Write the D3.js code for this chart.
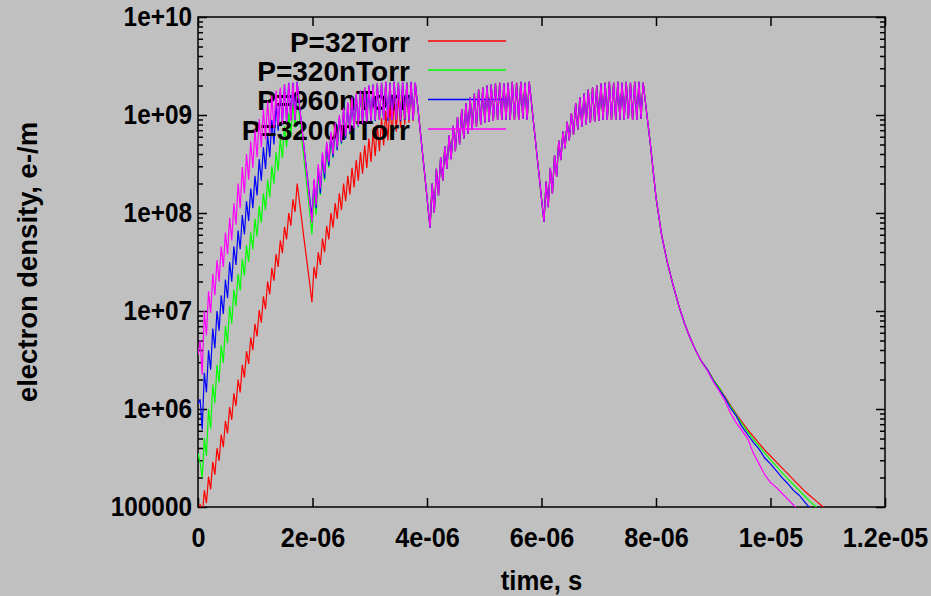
<!DOCTYPE html>
<html lang="en">
<head>
<meta charset="UTF-8">
<title>electron density</title>
<script src="https://d3js.org/d3.v7.min.js"></script>
<style>
  body { margin: 0; background: #c0c0c0; }
  svg text { font-family: "Liberation Sans", Arial, sans-serif; font-weight: bold; fill: #000; }
</style>
</head>
<body>
<svg id="chart" width="931" height="596"></svg>
<script>
// log10(electron density), one sample every half RF period
var halfPeriod = 0.03685e-6;

// pulse 1, decay, pulse 2 (samples 0..103)
var redEarly = [
  4.80, 5.03, 4.90, 5.17, 5.04, 5.31, 5.18, 5.46, 5.33, 5.60, 5.47, 5.74, 5.61, 5.88, 5.75, 6.02,
  5.89, 6.16, 6.03, 6.30, 6.17, 6.45, 6.32, 6.59, 6.46, 6.73, 6.60, 6.87, 6.74, 7.01, 6.88, 7.15,
  7.02, 7.30, 7.17, 7.44, 7.31, 7.58, 7.45, 7.72, 7.59, 7.86, 7.73, 8.00, 7.87, 8.14, 8.01, 8.30,
  8.13, 7.96, 7.78, 7.61, 7.44, 7.27, 7.09,
  7.45, 7.33, 7.60, 7.47, 7.74, 7.60, 7.87, 7.73, 8.00, 7.85, 8.10, 7.94, 8.20, 8.03, 8.30, 8.12,
  8.38, 8.19, 8.46, 8.26, 8.54, 8.33, 8.62, 8.40, 8.69, 8.46, 8.76, 8.52, 8.83, 8.58, 8.90, 8.63,
  8.97, 8.69, 9.04, 8.74, 9.10, 8.79, 9.16, 8.83, 9.21, 8.87, 9.25, 8.90, 9.28, 8.92, 9.30, 8.94, 9.31
];
var greenEarly = [
  5.55, 5.45, 5.30, 5.70, 5.52, 6.00, 5.80, 6.25, 6.06, 6.45, 6.27, 6.65, 6.47, 6.85, 6.67, 7.05,
  6.87, 7.22, 7.05, 7.38, 7.21, 7.53, 7.36, 7.67, 7.50, 7.80, 7.63, 7.94, 7.76, 8.07, 7.90, 8.20,
  8.03, 8.34, 8.16, 8.48, 8.30, 8.62, 8.43, 8.76, 8.56, 8.89, 8.67, 9.02, 8.78, 9.14, 8.87, 9.22,
  9.00, 8.80, 8.60, 8.40, 8.20, 8.00, 7.78,
  8.20, 7.98, 8.40, 8.18, 8.54, 8.33, 8.66, 8.46, 8.77, 8.56, 8.87, 8.64, 8.96, 8.70, 9.04, 8.76,
  9.10, 8.80, 9.16, 8.84, 9.20, 8.87, 9.24, 8.90, 9.27, 8.92, 9.29, 8.93, 9.31, 8.94, 9.32, 8.95,
  9.33, 8.95, 9.33, 8.95, 9.34, 8.95, 9.33, 8.96, 9.34, 8.95, 9.33, 8.95, 9.34, 8.96, 9.33, 8.96, 9.33
];
var blueEarly = [
  6.05, 6.10, 5.79, 6.37, 6.17, 6.60, 6.40, 6.82, 6.62, 7.00, 6.80, 7.16, 6.97, 7.32, 7.13, 7.50,
  7.30, 7.66, 7.47, 7.82, 7.63, 7.98, 7.78, 8.12, 7.92, 8.25, 8.05, 8.38, 8.18, 8.55, 8.33, 8.67,
  8.45, 8.80, 8.57, 8.95, 8.70, 9.12, 8.84, 9.25, 8.92, 9.31, 8.94, 9.33, 8.95, 9.33, 8.95, 9.34,
  9.12, 8.92, 8.72, 8.53, 8.34, 8.15, 7.96,
  8.33, 8.05, 8.47, 8.20, 8.60, 8.35, 8.71, 8.48, 8.81, 8.57, 8.90, 8.64, 8.98, 8.71, 9.06, 8.76,
  9.12, 8.81, 9.17, 8.85, 9.21, 8.88, 9.25, 8.90, 9.28, 8.92, 9.30, 8.93, 9.31, 8.94, 9.32, 8.95,
  9.33, 8.95, 9.34, 8.94, 9.33, 8.95, 9.34, 8.95, 9.33, 8.94, 9.34, 8.95, 9.33, 8.95, 9.34, 8.95, 9.33
];
var magentaEarly = [
  6.55, 6.70, 6.35, 7.00, 6.75, 7.20, 6.98, 7.38, 7.16, 7.52, 7.30, 7.66, 7.45, 7.80, 7.58, 7.95,
  7.72, 8.10, 7.88, 8.30, 8.05, 8.47, 8.20, 8.60, 8.34, 8.73, 8.46, 8.85, 8.57, 8.96, 8.67, 9.06,
  8.75, 9.14, 8.81, 9.20, 8.86, 9.25, 8.89, 9.28, 8.91, 9.31, 8.93, 9.32, 8.94, 9.33, 8.95, 9.33,
  9.12, 8.92, 8.71, 8.51, 8.31, 8.10, 7.90,
  8.35, 8.08, 8.50, 8.25, 8.62, 8.40, 8.73, 8.52, 8.83, 8.60, 8.92, 8.67, 9.00, 8.73, 9.07, 8.78,
  9.13, 8.83, 9.18, 8.86, 9.22, 8.89, 9.25, 8.91, 9.28, 8.93, 9.30, 8.94, 9.31, 8.95, 9.32, 8.95,
  9.33, 8.95, 9.34, 8.96, 9.33, 8.95, 9.34, 8.95, 9.33, 8.95, 9.34, 8.96, 9.33, 8.95, 9.34, 8.95, 9.33
];

// decay, pulse 3, decay, pulse 4 (samples 104..211), all pressures alike here
var lateAll = [
  9.12, 8.91, 8.70, 8.49, 8.28, 8.06, 7.85,
  8.30, 8.00, 8.45, 8.18, 8.57, 8.33, 8.68, 8.45, 8.79, 8.55, 8.89, 8.63, 8.98, 8.70, 9.06, 8.76,
  9.12, 8.81, 9.18, 8.85, 9.22, 8.88, 9.26, 8.90, 9.28, 8.92, 9.30, 8.93, 9.31, 8.94, 9.32, 8.95,
  9.33, 8.95, 9.32, 8.95, 9.33, 8.95, 9.34, 8.95, 9.33, 8.95, 9.34, 8.96, 9.33, 8.95, 9.34,
  9.14, 8.93, 8.73, 8.52, 8.32, 8.11, 7.91,
  8.32, 8.06, 8.46, 8.20, 8.59, 8.37, 8.74, 8.54, 8.83, 8.66, 8.93, 8.74, 9.02, 8.80, 9.12, 8.85,
  9.18, 8.88, 9.22, 8.90, 9.26, 8.92, 9.28, 8.93, 9.30, 8.94, 9.32, 8.95, 9.33, 8.95, 9.34, 8.95,
  9.33, 8.95, 9.34, 8.95, 9.33, 8.95, 9.34, 8.96, 9.33, 8.95, 9.34, 8.95, 9.34, 8.96, 9.33
];

// afterglow, one sample every 0.1 us from 7.9 us
var tailStart = 7.9e-6, tailStep = 0.1e-6;
var redTail = [8.71, 8.16, 7.77, 7.49, 7.26, 7.05, 6.87, 6.72, 6.59, 6.48, 6.40, 6.30, 6.22, 6.13, 6.04, 5.95,
  5.87, 5.79, 5.72, 5.65, 5.58, 5.52, 5.46, 5.40, 5.34, 5.28, 5.22, 5.16, 5.11, 5.06, 5.01, 4.96];
var greenTail = [8.71, 8.16, 7.77, 7.49, 7.26, 7.05, 6.87, 6.72, 6.59, 6.48, 6.40, 6.30, 6.22, 6.12, 6.03, 5.94,
  5.85, 5.77, 5.69, 5.62, 5.55, 5.48, 5.42, 5.35, 5.29, 5.23, 5.17, 5.11, 5.05, 5.00, 4.95];
var blueTail = [8.71, 8.16, 7.77, 7.49, 7.26, 7.05, 6.87, 6.72, 6.59, 6.48, 6.40, 6.29, 6.20, 6.12, 6.01, 5.93,
  5.82, 5.74, 5.66, 5.59, 5.50, 5.44, 5.37, 5.30, 5.24, 5.17, 5.12, 5.05, 4.98];
var magentaTail = [8.71, 8.16, 7.77, 7.49, 7.26, 7.05, 6.87, 6.72, 6.59, 6.48, 6.39, 6.28, 6.19, 6.09, 5.96, 5.86,
  5.78, 5.70, 5.55, 5.44, 5.33, 5.25, 5.20, 5.14, 5.08, 5.02, 4.96];

var seriesNames = ["P=32Torr", "P=320nTorr", "P=960nTorr", "P=3200nTorr"];
var seriesColors = ["#ff0000", "#00ff00", "#0000ff", "#ff00ff"];

var xTicks = [0, 2e-6, 4e-6, 6e-6, 8e-6, 1e-5, 1.2e-5];
var xTickLabels = ["0", "2e-06", "4e-06", "6e-06", "8e-06", "1e-05", "1.2e-05"];
var yTicks = [1e5, 1e6, 1e7, 1e8, 1e9, 1e10];
var yTickLabels = ["100000", "1e+06", "1e+07", "1e+08", "1e+09", "1e+10"];

function buildSeries(early, late, tail) {
  var pts = [];
  early.forEach(function (v, i) { pts.push([i * halfPeriod, Math.pow(10, v)]); });
  late.forEach(function (v, j) { pts.push([(early.length + j) * halfPeriod, Math.pow(10, v)]); });
  tail.forEach(function (v, k) { pts.push([tailStart + k * tailStep, Math.pow(10, v)]); });
  return pts;
}

var series = [
  buildSeries(redEarly, lateAll, redTail),
  buildSeries(greenEarly, lateAll, greenTail),
  buildSeries(blueEarly, lateAll, blueTail),
  buildSeries(magentaEarly, lateAll, magentaTail)
];

var plotL = 198, plotR = 885, plotT = 17, plotB = 507;
var svg = d3.select("#chart");

var x = d3.scaleLinear().domain([0, 1.2e-5]).range([plotL, plotR]);
var y = d3.scaleLog().domain([1e5, 1e10]).range([plotB, plotT]);

svg.append("rect").attr("width", 931).attr("height", 596).attr("fill", "#c0c0c0");

var minorTicks = y.ticks().filter(function (d) { return yTicks.indexOf(d) < 0; });

// gnuplot's font is a little narrower than Liberation Sans
function squeeze(sel, k) {
  sel.each(function () {
    var w = this.getComputedTextLength();
    this.setAttribute("textLength", w * k);
    this.setAttribute("lengthAdjust", "spacingAndGlyphs");
  });
}

function styleAxis(g) {
  g.select(".domain").remove();
  g.selectAll(".tick line").attr("stroke", "#000").attr("stroke-width", 1.5);
  g.selectAll("text").attr("font-size", 28).attr("fill", "#000");
}

svg.append("g").attr("transform", "translate(" + plotL + ",0)")
  .call(d3.axisLeft(y).tickValues(yTicks).tickSize(-9).tickPadding(6)
    .tickFormat(function (d, i) { return yTickLabels[i]; }))
  .call(styleAxis)
  .selectAll("text").call(squeeze, 0.87);
svg.append("g").attr("transform", "translate(" + plotL + ",0)")
  .call(d3.axisLeft(y).tickValues(minorTicks).tickSize(-5).tickFormat(""))
  .call(styleAxis);
svg.append("g").attr("transform", "translate(" + plotR + ",0)")
  .call(d3.axisRight(y).tickValues(yTicks).tickSize(-9).tickFormat(""))
  .call(styleAxis);
svg.append("g").attr("transform", "translate(" + plotR + ",0)")
  .call(d3.axisRight(y).tickValues(minorTicks).tickSize(-5).tickFormat(""))
  .call(styleAxis);
svg.append("g").attr("transform", "translate(0," + plotB + ")")
  .call(d3.axisBottom(x).tickValues(xTicks).tickSize(-9).tickPadding(20)
    .tickFormat(function (d, i) { return xTickLabels[i]; }))
  .call(styleAxis)
  .selectAll("text").call(squeeze, 0.9);
svg.append("g").attr("transform", "translate(0," + plotT + ")")
  .call(d3.axisTop(x).tickValues(xTicks).tickSize(-9).tickFormat(""))
  .call(styleAxis);

svg.append("rect")
  .attr("x", plotL).attr("y", plotT)
  .attr("width", plotR - plotL).attr("height", plotB - plotT)
  .attr("fill", "none").attr("stroke", "#000").attr("stroke-width", 1.5);

svg.append("text")
  .attr("x", (plotL + plotR) / 2).attr("y", 590)
  .attr("text-anchor", "middle").attr("font-size", 28)
  .text("time, s")
  .call(squeeze, 0.92);
svg.append("text")
  .attr("transform", "translate(37," + (plotT + plotB) / 2 + ") rotate(-90)")
  .attr("text-anchor", "middle").attr("font-size", 28)
  .text("electron density, e-/m")
  .call(squeeze, 0.98);

svg.append("clipPath").attr("id", "plotclip")
  .append("rect").attr("x", plotL).attr("y", plotT)
  .attr("width", plotR - plotL).attr("height", plotB - plotT);

var line = d3.line()
  .x(function (d) { return x(d[0]); })
  .y(function (d) { return y(d[1]); });

// gnuplot order: key entry then its curve, one series after the other
var keyRows = [41, 70, 99.5, 129];
series.forEach(function (pts, s) {
  svg.append("text")
    .attr("x", 410).attr("y", keyRows[s] + 10.5)
    .attr("text-anchor", "end").attr("font-size", 28)
    .text(seriesNames[s]);
  svg.append("line")
    .attr("x1", 428).attr("x2", 506)
    .attr("y1", keyRows[s]).attr("y2", keyRows[s])
    .attr("stroke", seriesColors[s]).attr("stroke-width", 1.5);
  svg.append("path")
    .datum(pts)
    .attr("clip-path", "url(#plotclip)")
    .attr("fill", "none")
    .attr("stroke", seriesColors[s])
    .attr("stroke-width", 1.2)
    .attr("d", line);
});
</script>
</body>
</html>
